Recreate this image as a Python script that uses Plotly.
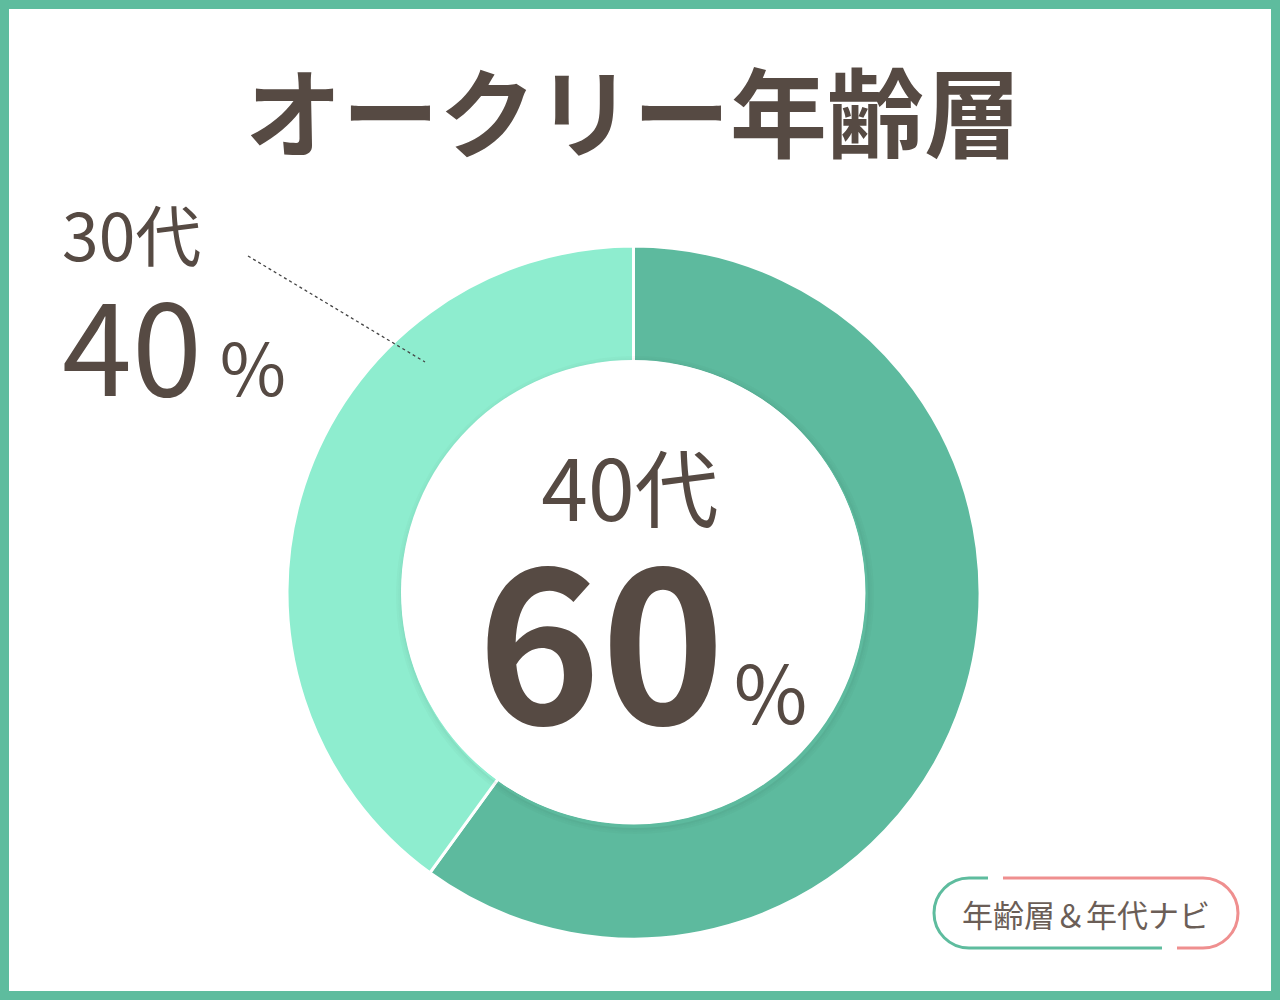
import plotly.graph_objects as go

W, H = 1280, 1000

# data
ages = ["40代", "30代"]
shares = [60, 40]
slice_colors = ["#5dba9e", "#8eedcf"]
title_text = "オークリー年齢層"
badge_text = "年齢層＆年代ナビ"

ink = "#564a43"
jp = "Noto Sans CJK JP"


def px(x):
    return x / W


def py(y):
    return 1 - y / H


fig = go.Figure()

fig.add_trace(go.Pie(
    labels=ages,
    values=shares,
    sort=False,
    direction="clockwise",
    rotation=0,
    hole=0.665,
    marker=dict(colors=slice_colors, line=dict(color="white", width=3)),
    textinfo="none",
    hoverinfo="label+percent",
    showlegend=False,
    domain=dict(x=[px(287), px(980)], y=[py(939), py(246)]),
))

# soft shadow round the hole
cx, cy, r = 633, 592, 232
shapes = []
for i, a in enumerate([0.06, 0.035, 0.02]):
    rr = r + 2 + i * 2
    shapes.append(dict(type="circle", xref="paper", yref="paper",
                       x0=px(cx - rr + 2), x1=px(cx + rr + 2),
                       y0=py(cy + rr + 3), y1=py(cy - rr + 3),
                       line=dict(color=f"rgba(0,0,0,{a})", width=2)))
shapes.append(dict(type="circle", xref="paper", yref="paper",
                   x0=px(cx - r), x1=px(cx + r), y0=py(cy + r), y1=py(cy - r),
                   fillcolor="white", line=dict(width=0)))

# outer frame
shapes.append(dict(type="rect", xref="paper", yref="paper", x0=0, x1=1, y0=0, y1=1,
                   line=dict(color="#5ebc9e", width=18), layer="above"))

# leader line for 30代
shapes.append(dict(type="line", xref="paper", yref="paper",
                   x0=px(248), y0=py(256), x1=px(425), y1=py(362),
                   line=dict(color="#444", width=1.3, dash="dot")))

# badge outline, green left half, pink right half
k = 0.5523
bl, br, bt, bb = 934, 1238, 878, 948
rad = (bb - bt) / 2


def P(x, y):
    return f"{px(x):.5f},{py(y):.5f}"


green = ("M " + P(988, bt) + " L " + P(bl + rad, bt) +
         " C " + P(bl + rad - k * rad, bt) + " " + P(bl, bt + rad - k * rad) + " " + P(bl, bt + rad) +
         " C " + P(bl, bt + rad + k * rad) + " " + P(bl + rad - k * rad, bb) + " " + P(bl + rad, bb) +
         " L " + P(1162, bb))
pink = ("M " + P(1003, bt) + " L " + P(br - rad, bt) +
        " C " + P(br - rad + k * rad, bt) + " " + P(br, bt + rad - k * rad) + " " + P(br, bt + rad) +
        " C " + P(br, bt + rad + k * rad) + " " + P(br - rad + k * rad, bb) + " " + P(br - rad, bb) +
        " L " + P(1177, bb))
shapes.append(dict(type="path", xref="paper", yref="paper", path=green,
                   line=dict(color="#5ebc9e", width=3)))
shapes.append(dict(type="path", xref="paper", yref="paper", path=pink,
                   line=dict(color="#ef8f8f", width=3)))

# the two-line labels are single annotations; line spacing is 1.3 x base font size
center_label = (f"<span style='font-size:84px'>{ages[0]}</span>"
                f"<span style='font-size:110px'>\u00a0</span><br>"
                f"<span style='font-size:210px;font-weight:bold'>{shares[0]}</span>"
                f"<span style='font-size:40px'> </span>"
                f"<span style='font-size:80px'>%</span>")
side_label = (f"<span style='font-size:66px'>{ages[1]}</span><br>"
              f"<span style='font-size:126px'>{shares[1]}</span>"
              f"<span style='font-size:80px'> </span>"
              f"<span style='font-size:72px'>%</span>")

annotations = [
    dict(text=title_text, x=px(633), y=py(108), xanchor="center", yanchor="middle",
         font=dict(family=jp, size=97, color=ink, weight="bold")),
    dict(text=center_label, x=px(642), y=py(588), xanchor="center", yanchor="middle",
         align="center", font=dict(family=jp, size=156, color=ink)),
    dict(text=side_label, x=px(60), y=py(308), xanchor="left", yanchor="middle",
         align="left", font=dict(family=jp, size=104, color=ink)),
    dict(text=badge_text, x=px(1086), y=py(913), xanchor="center", yanchor="middle",
         font=dict(family=jp, size=31, color="#6b5e57")),
]
for a in annotations:
    a.update(xref="paper", yref="paper", showarrow=False)

fig.update_layout(
    width=W, height=H,
    margin=dict(l=0, r=0, t=0, b=0),
    paper_bgcolor="white",
    plot_bgcolor="white",
    shapes=shapes,
    annotations=annotations,
)

fig.write_html("out.html", config={"displayModeBar": False},
               post_script="document.body.style.margin='0px';")
